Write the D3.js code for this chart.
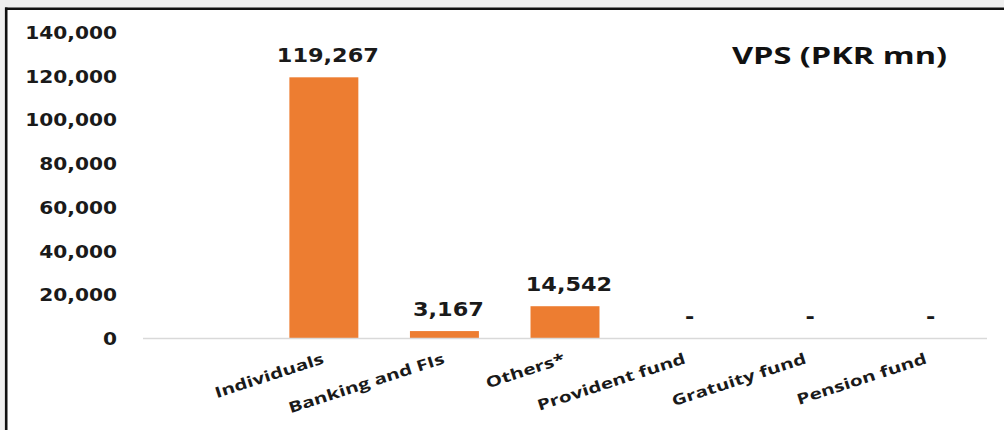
<!DOCTYPE html>
<html>
<head>
<meta charset="utf-8">
<script src="https://cdn.jsdelivr.net/npm/d3@7"></script>
<style>
  html, body { margin: 0; padding: 0; background: #ffffff; }
  svg { display: block; }
</style>
</head>
<body>
<svg id="chart" width="1004" height="430"></svg>
<script>
// ---- data ----
const categories = ["Individuals", "Banking and FIs", "Others*", "Provident fund", "Gratuity fund", "Pension fund"];
const values = [119267, 3167, 14542, 0, 0, 0];
const yTicks = [0, 20000, 40000, 60000, 80000, 100000, 120000, 140000];
const title = "VPS (PKR mn)";

// ---- layout ----
const W = 1004, H = 430;
const plotLeft = 143, plotRight = 987, plotTop = 32, plotBottom = 338;
const slots = 7; // the axis holds one empty slot before the first category
const step = (plotRight - plotLeft) / slots;
const barColor = "#ED7D31";
const numFont = "'DejaVu Sans', Verdana, sans-serif";
const textFont = "'Open Sans', 'Noto Sans', sans-serif";

const svg = d3.select("#chart");

function stretch(sel, k) {
  sel.each(function () {
    const len = this.getComputedTextLength();
    d3.select(this).attr("textLength", len * k).attr("lengthAdjust", "spacingAndGlyphs");
  });
}

// background strips and frame (chart is a cropped screenshot)
svg.append("rect").attr("x", 0).attr("y", 0).attr("width", W).attr("height", 8).attr("fill", "#efefef");
svg.append("rect").attr("x", 0).attr("y", 0).attr("width", 5).attr("height", H).attr("fill", "#f0f0f0");
svg.append("line").attr("x1", 5).attr("x2", W).attr("y1", 8.7).attr("y2", 8.7)
  .attr("stroke", "#111").attr("stroke-width", 2.6);
svg.append("line").attr("x1", 6.2).attr("x2", 6.2).attr("y1", 7.5).attr("y2", H)
  .attr("stroke", "#111").attr("stroke-width", 2.6);

// scales
const y = d3.scaleLinear().domain([0, 140000]).range([plotBottom, plotTop]);
const pi = 0.428;
const x = d3.scaleBand().domain(categories)
  .range([plotLeft + step, plotRight])
  .paddingInner(pi).paddingOuter(pi / 2);

// y axis (labels only)
const yAxis = d3.axisLeft(y).tickValues(yTicks).tickFormat(d3.format(",")).tickSize(0).tickPadding(0);
const gy = svg.append("g").attr("transform", `translate(117,0)`).call(yAxis);
gy.select(".domain").remove();
gy.selectAll("text")
  .attr("font-family", numFont).attr("font-size", 18).attr("font-weight", "bold")
  .attr("fill", "#1a1a1a").attr("dy", "0.36em");
stretch(gy.selectAll("text"), 1.12);

// bars
svg.append("g").selectAll("rect")
  .data(categories.map((c, i) => ({ c, v: values[i] })))
  .join("rect")
  .attr("x", d => x(d.c))
  .attr("width", x.bandwidth())
  .attr("y", d => y(d.v))
  .attr("height", d => y(0) - y(d.v))
  .attr("fill", barColor);

// baseline
svg.append("line").attr("x1", plotLeft).attr("x2", plotRight)
  .attr("y1", plotBottom + 0.5).attr("y2", plotBottom + 0.5)
  .attr("stroke", "#d9d9d9").attr("stroke-width", 1.6);

// value labels
const vl = svg.append("g").selectAll("text")
  .data(categories.map((c, i) => ({ c, v: values[i] })))
  .join("text")
  .attr("x", d => x(d.c) + x.bandwidth() / 2 + 4)
  .attr("y", d => y(d.v) - 15)
  .attr("text-anchor", "middle")
  .attr("font-family", numFont).attr("font-size", 20).attr("font-weight", "bold")
  .attr("fill", "#1a1a1a")
  .text(d => d.v > 0 ? d3.format(",")(d.v) : "-");
stretch(vl, 1.12);

// category labels
const cl = svg.append("g").selectAll("text")
  .data(categories)
  .join("text")
  .attr("text-anchor", "end")
  .attr("transform", d => `translate(${x(d) + x.bandwidth() / 2 + 1},${363}) rotate(-18)`)
  .attr("font-family", textFont).attr("font-size", 15).attr("font-weight", "bold")
  .attr("fill", "#1a1a1a")
  .text(d => d);
stretch(cl, 1.38);

// title
const t = svg.append("text")
  .attr("x", 732).attr("y", 64)
  .attr("font-family", textFont).attr("font-size", 24).attr("font-weight", "bold")
  .attr("fill", "#111")
  .text(title);
t.attr("textLength", 215).attr("lengthAdjust", "spacingAndGlyphs");
</script>
</body>
</html>
